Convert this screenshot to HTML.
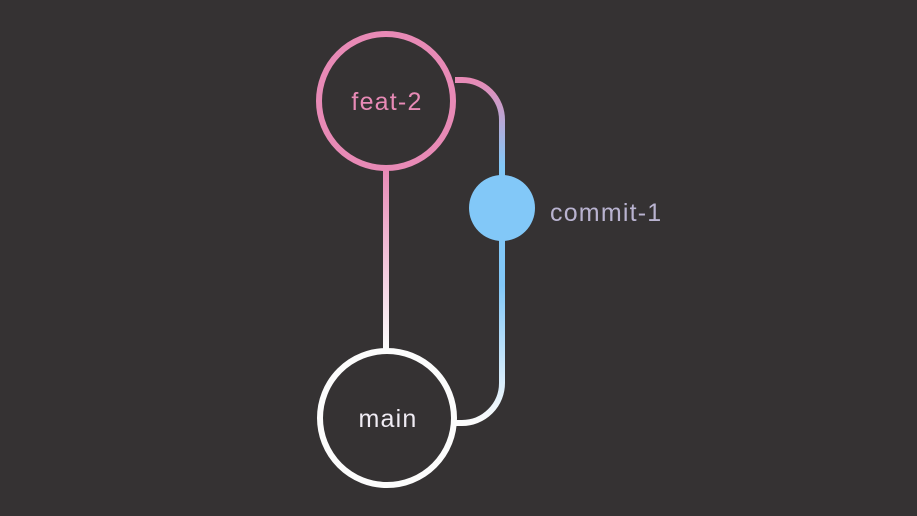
<!DOCTYPE html>
<html><head><meta charset="utf-8"><style>
html,body{margin:0;padding:0;background:#353233;}
svg{display:block}
text{font-family:"Liberation Sans","DejaVu Sans",sans-serif;font-size:25px;letter-spacing:1.2px;}
</style></head><body>
<svg width="917" height="516" viewBox="0 0 917 516">
<defs>
<linearGradient id="gl" gradientUnits="userSpaceOnUse" x1="0" y1="170" x2="0" y2="348">
<stop offset="0" stop-color="#e88ab6"/><stop offset="1" stop-color="#fcfcfc"/>
</linearGradient>
<linearGradient id="gr" gradientUnits="userSpaceOnUse" x1="0" y1="80" x2="0" y2="423">
<stop offset="0" stop-color="#e88ab6"/><stop offset="0.25" stop-color="#82c8f8"/><stop offset="0.6" stop-color="#82c8f8"/><stop offset="1" stop-color="#fcfcfc"/>
</linearGradient>
</defs>
<rect width="917" height="516" fill="#353233"/>
<line x1="386" y1="168" x2="386" y2="350" stroke="url(#gl)" stroke-width="6"/>
<path d="M455 80 H462 A40 40 0 0 1 502 120 V383 A40 40 0 0 1 462 423 H455" fill="none" stroke="url(#gr)" stroke-width="6"/>
<circle cx="386" cy="101" r="67" fill="#353233" stroke="#e88ab6" stroke-width="6"/>
<text x="387" y="110" text-anchor="middle" fill="#e88ab6">feat-2</text>
<circle cx="387" cy="418" r="67" fill="#353233" stroke="#fcfcfc" stroke-width="6"/>
<text x="388" y="427" text-anchor="middle" fill="#f0ecf4">main</text>
<circle cx="502" cy="208" r="33" fill="#82c8f8"/>
<text x="550" y="221" fill="#b9b3d0">commit-1</text>
</svg>
</body></html>
